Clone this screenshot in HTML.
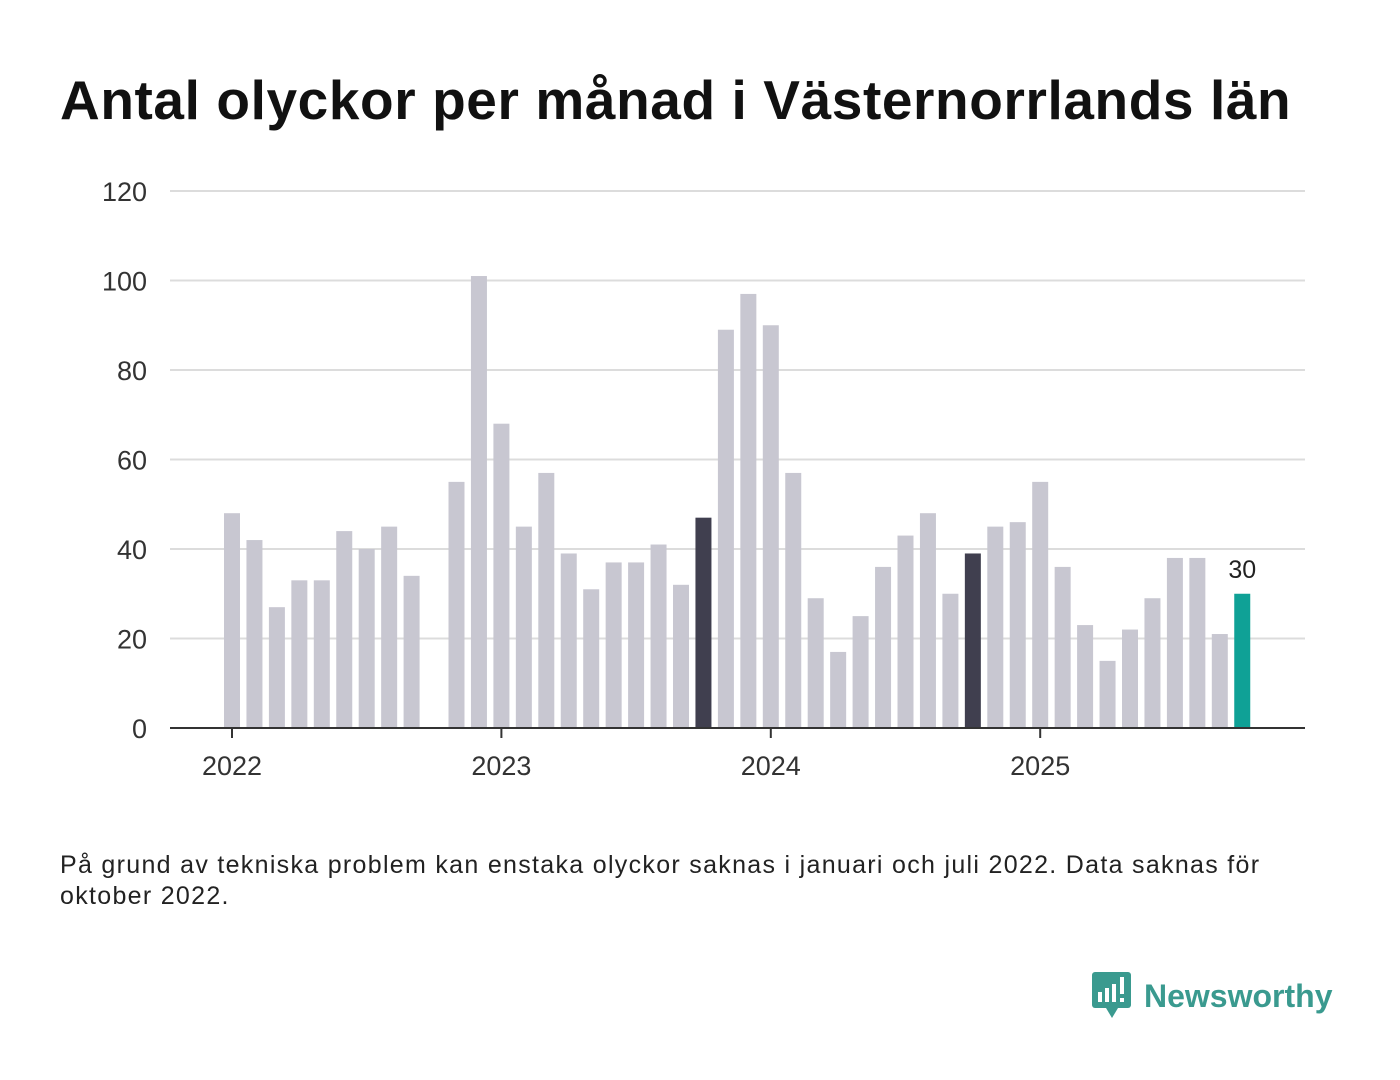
<!DOCTYPE html>
<html><head><meta charset="utf-8"><style>
body{margin:0;width:1400px;height:1080px;background:#fff;font-family:"Liberation Sans",sans-serif;overflow:hidden;position:relative}
#title{position:absolute;left:60px;top:68px;font-size:55px;font-weight:bold;color:#111;margin:0;letter-spacing:0.6px;white-space:nowrap}
#note{position:absolute;left:60px;top:850px;font-size:25px;color:#222;line-height:31px;width:1225px;letter-spacing:1.3px}
</style></head><body>
<h1 id="title">Antal olyckor per månad i Västernorrlands län</h1>
<svg id="chart" width="1400" height="820" style="position:absolute;left:0;top:0"></svg>
<div id="note">På grund av tekniska problem kan enstaka olyckor saknas i januari och juli 2022. Data saknas för oktober 2022.</div>
<div style="position:absolute;left:1092px;top:972px;display:flex;align-items:center">
<svg width="40" height="48"><rect x="0" y="0" width="39" height="36" rx="3" fill="#3a9a8f"/><polygon points="14,36 26,36 20,46" fill="#3a9a8f"/><rect x="6" y="20" width="4" height="10" fill="#fff"/><rect x="13" y="16" width="4" height="14" fill="#fff"/><rect x="20" y="12" width="4" height="18" fill="#fff"/><rect x="28" y="5" width="4" height="17" fill="#fff"/><rect x="28" y="26" width="4" height="4" fill="#fff"/></svg>
<span style="font-size:32px;color:#3a9a8f;margin-left:12px;font-weight:bold">Newsworthy</span></div>
<script>
const values=[48,42,27,33,33,44,40,45,34,null,55,101,
68,45,57,39,31,37,37,41,32,47,89,97,
90,57,29,17,25,36,43,48,30,39,45,46,
55,36,23,15,22,29,38,38,21,30];
const highlighted=[21,33];
const yTicks=[0,20,40,60,80,100,120];
const years=["2022","2023","2024","2025"];
const ns="http://www.w3.org/2000/svg",svg=document.getElementById('chart');
const y=v=>728-v*537/120, x=i=>232+i*22.45;
function mk(t,a){const e=document.createElementNS(ns,t);for(const k in a)e.setAttribute(k,a[k]);svg.appendChild(e);return e;}
yTicks.forEach(t=>{
 if(t>0){const g=mk('line',{x1:170,x2:1305,y1:y(t),y2:y(t),stroke:'#dcdcdc','stroke-width':2});
 
 }
 const l=mk('text',{x:147,y:y(t)+10,'text-anchor':'end','font-size':27,fill:'#333'});l.textContent=t;
 
 
});
values.forEach((v,i)=>{if(v==null)return;
 const last=i===values.length-1;
 const c=last?'#0fa196':highlighted.includes(i)?'#403f4f':'#c8c7d1';
 const b=mk('rect',{x:x(i)-8,y:y(v),width:16,height:728-y(v),fill:c});
 
 
 if(last){const t=mk('text',{x:x(i),y:y(v)-16,'text-anchor':'middle','font-size':25,fill:'#222'});t.textContent=v;
 
 }
});
const ax=mk('line',{x1:170,x2:1305,y1:728,y2:728,stroke:'#333','stroke-width':2});


years.forEach((yr,k)=>{const xx=x(k*12);
 const tk=mk('line',{x1:xx,x2:xx,y1:728,y2:738,stroke:'#333','stroke-width':2});
 
 
 const t=mk('text',{x:xx,y:775,'text-anchor':'middle','font-size':27,fill:'#333'});t.textContent=yr;
 
 });
</script>
</body></html>
